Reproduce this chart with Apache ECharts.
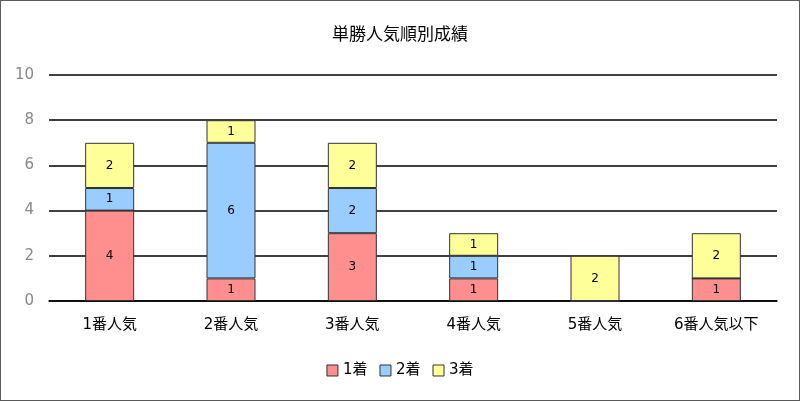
<!DOCTYPE html>
<html><head><meta charset="utf-8">
<script src="https://cdn.jsdelivr.net/npm/echarts@6/dist/echarts.min.js"></script>
<style>html,body{margin:0;padding:0;background:#fff}#c{width:800px;height:401px;box-sizing:border-box;border:1px solid #595959}</style>
</head><body><div id="c"></div>
<script>
const categories = ['1番人気','2番人気','3番人気','4番人気','5番人気','6番人気以下'];
const seriesNames = ['1着','2着','3着'];
const first = [4,1,3,1,0,1];
const second = [1,6,2,1,0,0];
const third = [2,1,2,1,2,2];
const colors = ['#FF8F8F','#99CCFF','#FFFF99'];
const font = 'Verdana, "DejaVu Sans", "Noto Sans CJK JP", sans-serif';
const chart = echarts.init(document.getElementById('c'));
const mk = (name, data, color) => ({
  name, type:'bar', stack:'a', data, barWidth:49,
  itemStyle:{color, borderColor:'#333', borderWidth:1},
  label:{show:true, position:'inside', color:'#000', fontSize:12, fontFamily:font,
    formatter:p=>p.value?String(p.value):''}
});
chart.setOption({
  animation:false,
  title:{text:'単勝人気順別成績', left:'center', top:19, textStyle:{fontSize:17, fontWeight:'normal', color:'#000', fontFamily:'"Noto Sans CJK JP", sans-serif'}},
  legend:{bottom:17, itemWidth:11, itemHeight:11, itemGap:12, itemTextGap:4, icon:'rect',
    textStyle:{fontSize:15, color:'#000', fontFamily:font},
    itemStyle:{borderColor:'#333', borderWidth:1}},
  grid:{left:48, right:22, top:74, bottom:99},
  xAxis:{type:'category', data:categories, axisTick:{show:false},
    axisLine:{lineStyle:{color:'#000', width:1.5}},
    axisLabel:{fontSize:15, color:'#000', margin:17, fontFamily:font}},
  yAxis:{type:'value', min:0, max:10, interval:2,
    axisLine:{show:false}, axisTick:{show:false},
    splitLine:{lineStyle:{color:'#000', width:1.5}},
    axisLabel:{fontSize:15, color:'#888', margin:15, fontFamily:font}},
  series:[mk(seriesNames[0], first, colors[0]), mk(seriesNames[1], second, colors[1]), mk(seriesNames[2], third, colors[2])]
});
</script></body></html>
